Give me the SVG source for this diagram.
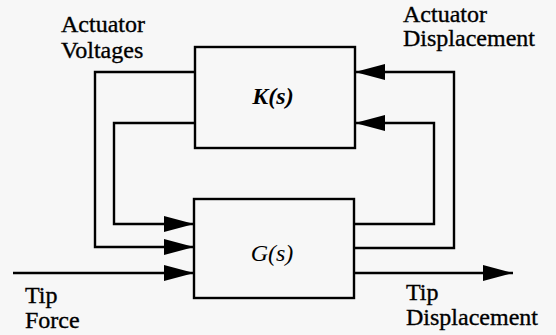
<svg xmlns="http://www.w3.org/2000/svg" width="556" height="335" viewBox="0 0 556 335">
  <defs>
    <marker id="arr" viewBox="0 0 30 16" refX="30" refY="8" markerWidth="30" markerHeight="16" markerUnits="userSpaceOnUse" orient="auto">
      <path d="M0,0 L30,8 L0,16 z" fill="#000"/>
    </marker>
    <style>
      .box { fill: none; stroke: #000; stroke-width: 2.4; }
      .wire { fill: none; stroke: #000; stroke-width: 2.4; stroke-linejoin: miter; }
      .lbl { font-family: "Liberation Serif", "Times New Roman", "DejaVu Serif", serif; font-size: 24px; fill: #000; stroke: #000; stroke-width: 0.35; }
      .blk { font-family: "Liberation Serif", "Times New Roman", "DejaVu Serif", serif; font-size: 24px; font-style: italic; fill: #000; text-anchor: middle; }
    </style>
  </defs>
  <rect width="556" height="335" fill="#f7f7f7"/>

  <g id="connectors">
    <path class="wire" d="M195,72 H95 V247 H194" marker-end="url(#arr)"/>
    <path class="wire" d="M195,123 H114 V224 H194" marker-end="url(#arr)"/>
    <path class="wire" d="M13,273 H194" marker-end="url(#arr)"/>
    <path class="wire" d="M354,224 H434 V123 H355" marker-end="url(#arr)"/>
    <path class="wire" d="M354,248 H454 V72 H355" marker-end="url(#arr)"/>
    <path class="wire" d="M354,273 H513" marker-end="url(#arr)"/>
  </g>

  <g id="K">
    <rect class="box" x="195" y="47" width="160" height="101"/>
    <text class="blk" x="273" y="104" font-weight="bold">K(s)</text>
  </g>

  <g id="G">
    <rect class="box" x="194" y="199" width="160" height="99"/>
    <text class="blk" x="272" y="261">G(s)</text>
  </g>

  <g id="labels">
    <text class="lbl" x="61" y="32">Actuator</text>
    <text class="lbl" x="61" y="58">Voltages</text>
    <text class="lbl" x="403" y="22">Actuator</text>
    <text class="lbl" x="403" y="46">Displacement</text>
    <text class="lbl" x="25" y="303">Tip</text>
    <text class="lbl" x="25" y="328">Force</text>
    <text class="lbl" x="406" y="300">Tip</text>
    <text class="lbl" x="406" y="325">Displacement</text>
  </g>
</svg>
